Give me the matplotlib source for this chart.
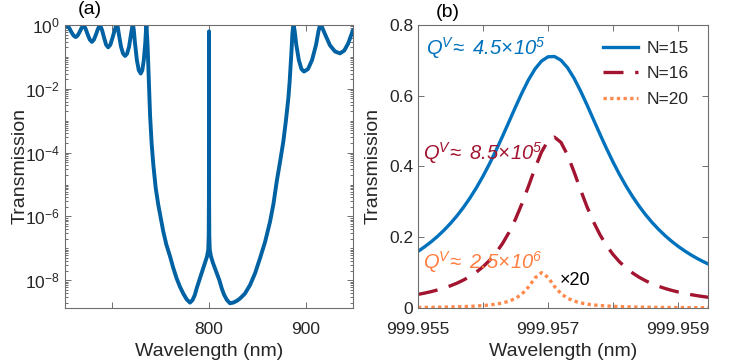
import numpy as np
import matplotlib
matplotlib.use('Agg')
import matplotlib.pyplot as plt
from matplotlib.ticker import FixedLocator, FixedFormatter, LogLocator, NullFormatter

plt.rcParams['font.family'] = ['Liberation Sans', 'DejaVu Sans']
plt.rcParams['mathtext.fontset'] = 'custom'
plt.rcParams['mathtext.rm'] = 'Liberation Sans'
plt.rcParams['mathtext.it'] = 'Liberation Sans:italic'
plt.rcParams['mathtext.sf'] = 'Liberation Sans:italic'  # used for the italic Q labels

# panel (a): broadband transmission, log10 values
wl_a = [651.5, 653.6, 655.8, 658.05, 660.3, 662.5, 664.5, 666.55, 668.6, 670.6,
        672.75, 674.9, 677.05, 679.2, 681.3, 683.4, 685.5, 687.6,
        689.7, 691.8, 693.9, 696.0, 698.25, 700.5, 702.75, 704.1, 705.0,
        705.85, 707.1, 709.25, 711.4, 713.5, 715.5, 717.55, 719.6, 720.8, 721.6,
        722.4, 723.6, 725.6, 727.6, 729.6, 731.2, 732.75, 734.3, 735.0, 735.5,
        736.6, 737.5, 738.3, 739.2, 740.8, 742.6, 745.0, 747.7, 750.2, 752.9,
        756.0, 759.8, 763.0, 766.7, 770.0, 773.5, 777.0, 780.4,
        783.0, 785.5, 787.3, 790.0, 792.0, 794.1, 796.0, 798.0, 799.2, 799.7, 799.9, 800.0,
        800.1, 800.3, 800.8, 802.0, 804.0, 806.2, 808.5, 810.7, 813.1, 815.5, 818.5, 821.6,
        825.0, 829.0, 832.0, 837.0, 842.3, 847.5, 852.6, 857.8, 862.9, 866.5, 869.8,
        873.2, 876.6, 879.3, 881.8, 883.1, 884.2, 885.2, 885.9, 886.6, 887.3,
        888.4, 890.0, 892.65, 895.3, 898.0, 902.1, 906.25, 910.4, 912.85, 914.5,
        916.56, 919.65, 924.8, 929.95, 935.1, 939.5, 943.5, 946.5, 948.5]
logT_a = [-0.06, 0.0, -0.09, -0.22, -0.33, -0.38, -0.33, -0.22, -0.09, 0.0,
          -0.12, -0.30, -0.46, -0.53, -0.46, -0.30, -0.12, 0.0,
          -0.16, -0.40, -0.62, -0.70, -0.62, -0.40, -0.16, -0.035, 0.0,
          -0.06, -0.30, -0.68, -0.90, -0.97, -0.90, -0.68, -0.30, -0.06, 0.0,
          -0.15, -0.55, -1.10, -1.42, -1.52, -1.42, -1.10, -0.55, -0.15, 0.0,
          -0.6, -1.35, -2.1, -2.82, -3.7, -4.39, -5.1, -5.64, -6.05, -6.48,
          -6.88, -7.25, -7.6, -7.95, -8.2, -8.42, -8.6, -8.70,
          -8.62, -8.45, -8.25, -8.0, -7.82, -7.63, -7.45, -7.25, -7.05, -6.6, -5.5, -0.2,
          -5.5, -6.6, -7.05, -7.25, -7.45, -7.63, -7.82, -8.0, -8.25, -8.45, -8.62, -8.72,
          -8.70, -8.64, -8.57, -8.42, -8.15, -7.78, -7.31, -6.80, -6.17, -5.60, -4.91,
          -4.30, -3.66, -3.0, -2.30, -1.80, -1.25, -0.75, -0.31, -0.08, 0.0,
          -0.20, -0.62, -1.10, -1.38, -1.46, -1.38, -1.10, -0.62, -0.20, 0.0,
          -0.067, -0.29, -0.64, -0.83, -0.89, -0.80, -0.58, -0.33, -0.16]

# panel (b): resonance near 999.957 nm
wl_b = [999.9550, 999.9551, 999.9552, 999.9553, 999.9554, 999.9555, 999.9556, 999.9557,
        999.9558, 999.9559, 999.9560, 999.9561, 999.9562, 999.9563, 999.9564, 999.9565,
        999.9566, 999.9567, 999.9568, 999.9569, 999.9570, 999.9571, 999.9572, 999.9573,
        999.9574, 999.9575, 999.9576, 999.9577, 999.9578, 999.9579, 999.9580, 999.9581,
        999.9582, 999.9583, 999.9584, 999.9585, 999.9586, 999.9587, 999.9588, 999.9589,
        999.9590, 999.9591, 999.9592, 999.9593, 999.9594, 999.9595]
T_n15 = [0.160, 0.1728, 0.1869, 0.2025, 0.2199, 0.2393, 0.2608, 0.2847, 0.3112, 0.3405,
         0.3727, 0.4077, 0.4454, 0.4853, 0.5267, 0.5683, 0.6084, 0.6450, 0.6756, 0.6980,
         0.7101, 0.7109, 0.7003, 0.6793, 0.6497, 0.6138, 0.5741, 0.5325, 0.4911, 0.4509,
         0.4128, 0.3774, 0.3448, 0.3152, 0.2883, 0.2640, 0.2421, 0.2225, 0.2048, 0.1889,
         0.1746, 0.1618, 0.1501, 0.1396, 0.1301, 0.1214]
T_n16 = [0.0385, 0.0421, 0.0462, 0.0510, 0.0565, 0.0629, 0.0703, 0.0791, 0.0894, 0.1018,
         0.1166, 0.1345, 0.1561, 0.1823, 0.2138, 0.2515, 0.2955, 0.3445, 0.3952, 0.4409,
         0.4729, 0.4829, 0.4680, 0.4326, 0.3851, 0.3344, 0.2862, 0.2435, 0.2070, 0.1766,
         0.1514, 0.1306, 0.1134, 0.0992, 0.0872, 0.0772, 0.0687, 0.0615, 0.0553, 0.0500,
         0.0454, 0.0413, 0.0378, 0.0347, 0.0320, 0.0295]
T_n20 = [0.00164, 0.00183, 0.00204, 0.00230, 0.00261, 0.00298, 0.00344, 0.00401, 0.00474, 0.00568,
         0.00691, 0.00858, 0.0109, 0.0143, 0.0193, 0.0271, 0.0397, 0.0595, 0.0851, 0.1000,
         0.0865, 0.0609, 0.0407, 0.0277, 0.0197, 0.0145, 0.0111, 0.0087, 0.0070, 0.00574,
         0.00479, 0.00405, 0.00347, 0.00301, 0.00263, 0.00232, 0.00206, 0.00184, 0.00165, 0.00149,
         0.00136, 0.00124, 0.00113, 0.00104, 0.00096, 0.00089]

labels_b = ['N=15', 'N=16', 'N=20']
q_texts = [r'$\mathsf{Q^V\!\approx\ 4.5\!\times\!10^5}$',
           r'$\mathsf{Q^V\!\approx\ 8.5\!\times\!10^5}$',
           r'$\mathsf{Q^V\!\approx\ 2.5\!\times\!10^6}$']

c_a = '#0061A3'
c15, c16, c20 = '#0072BD', '#A2142F', '#FF8A4C'
txt_col = '#262626'
spine_col = '#6e6e6e'

fig = plt.figure(figsize=(7.49, 3.6), dpi=100)
ax1 = fig.add_axes([0.0868, 0.1444, 0.3845, 0.7862])
ax2 = fig.add_axes([0.5581, 0.1444, 0.3872, 0.7862])

for ax in (ax1, ax2):
    for s in ax.spines.values():
        s.set_color(spine_col)
        s.set_linewidth(0.8)
    ax.tick_params(which='both', direction='in', top=True, right=True,
                   colors=spine_col, labelcolor=txt_col, labelsize=12.5, width=0.7)
    ax.tick_params(which='major', length=4)
    ax.tick_params(which='minor', length=2)

# (a)
ax1.plot(wl_a, 10.0 ** np.array(logT_a), color=c_a, lw=2.8,
         solid_joinstyle='round', solid_capstyle='round')
ax1.set_yscale('log')
ax1.set_xlim(651.5, 948.5)
ax1.set_ylim(1.35e-9, 1.0)
ax1.yaxis.set_major_locator(FixedLocator([1e-8, 1e-6, 1e-4, 1e-2, 1e0]))
ax1.yaxis.set_minor_locator(LogLocator(base=10, subs=np.arange(1, 10), numticks=100))
ax1.yaxis.set_minor_formatter(NullFormatter())
ax1.xaxis.set_major_locator(FixedLocator([700, 800, 900]))
ax1.xaxis.set_major_formatter(FixedFormatter(['', '800', '900']))
ax1.tick_params(axis='x', pad=10)
ax1.set_xlabel('Wavelength (nm)', fontsize=14, color=txt_col)
ax1.set_ylabel('Transmission', fontsize=14, color=txt_col)
ax1.xaxis.set_label_coords(0.5, -0.122)
ax1.yaxis.set_label_coords(-0.128, 0.5)
fig.text(0.12, 0.975, '(a)', fontsize=14, color='black', ha='center', va='center')

# (b)
ax2.plot(wl_b, T_n15, color=c15, lw=2.4, label=labels_b[0])
ax2.plot(wl_b, T_n16, color=c16, lw=2.4, dashes=(6, 3.5), label=labels_b[1])
ax2.plot(wl_b, T_n20, color=c20, lw=2.4, dashes=(1, 1), label=labels_b[2])
ax2.set_xlim(999.955, 999.959462)
ax2.set_ylim(0, 0.8)
ax2.xaxis.set_major_locator(FixedLocator([999.955, 999.956, 999.957, 999.958, 999.959]))
ax2.xaxis.set_major_formatter(FixedFormatter(['999.955', '', '999.957', '', '999.959']))
ax2.yaxis.set_major_locator(FixedLocator([0, 0.2, 0.4, 0.6, 0.8]))
ax2.yaxis.set_major_formatter(FixedFormatter(['0', '0.2', '0.4', '0.6', '0.8']))
ax2.tick_params(axis='x', pad=10)
ax2.set_xlabel('Wavelength (nm)', fontsize=14, color=txt_col)
ax2.set_ylabel('Transmission', fontsize=14, color=txt_col)
ax2.xaxis.set_label_coords(0.5, -0.122)
ax2.yaxis.set_label_coords(-0.124, 0.5)
fig.text(0.598, 0.965, '(b)', fontsize=14, color='black', ha='center', va='center')

ax2.text(999.95512, 0.715, q_texts[0], color=c15, fontsize=14.5)
ax2.text(999.95508, 0.418, q_texts[1], color=c16, fontsize=14.5)
ax2.text(999.95508, 0.110, q_texts[2], color='#FF7F40', fontsize=14.5)
ax2.text(999.957185, 0.066, '×20', color='black', fontsize=13)

leg = ax2.legend(loc='upper left', bbox_to_anchor=(0.638, 0.945), frameon=False,
                 fontsize=12.5, borderpad=0, borderaxespad=0, handlelength=2.0,
                 handletextpad=0.5, labelspacing=0.6)
for t in leg.get_texts():
    t.set_color(txt_col)

fig.savefig('out.png', dpi=100)
